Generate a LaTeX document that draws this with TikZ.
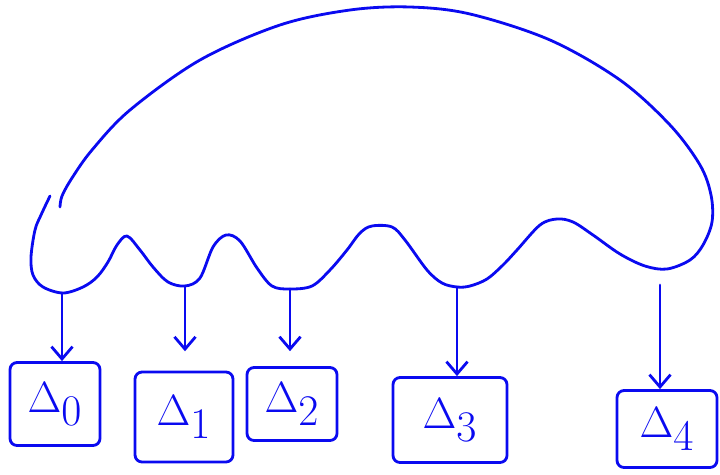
\documentclass[tikz,border=0pt]{standalone}
\usepackage{amsmath}
\usepackage{xcolor}
\usetikzlibrary{arrows.meta, positioning}
\definecolor{pen}{RGB}{10,10,240}

\begin{document}
\begin{tikzpicture}[
  x=0.02cm, y=-0.02cm,
  ink/.style={draw=pen, line width=1.6pt, line cap=round, line join=round},
  delta/.style={ink, rounded corners=4pt, inner sep=0pt, text=pen, font=\fontsize{36}{42}\selectfont},
  >={Straight Barb[length=7pt, width=12pt]}
]
\useasboundingbox (0,0) rectangle (720,474);

% outer blob with wavy bottom
\draw[ink] plot[smooth, tension=0.55] coordinates {
  (60,207) (62,196) (72,178) (92,150) (130,110) (200,60) (280,25) (350,10)
  (410,7) (470,14) (550,40) (620,80) (670,125) (700,165) (711,195) (712,222)
  (703,245) (690,260) (667,269) (645,266) (620,254) (593,235) (573,222)
  (557,219) (540,225) (517,250) (503,265) (487,279) (470,286) (457,287)
  (442,283) (427,270) (405,240) (392,227) (372,226) (360,233) (347,250)
  (330,270) (312,286) (290,289) (272,286) (257,268) (240,241) (226,235)
  (213,247) (200,278) (185,286) (168,282) (153,267) (140,250) (127,236)
  (117,245) (108,262) (97,277) (83,287) (63,293) (43,287) (33,275) (31,257)
  (35,230) (41,215) (50,196)};

% leaves
\node[delta, minimum width=1.8cm, minimum height=1.66cm] (d0) at (55,404) {$\Delta_0$};
\node[delta, minimum width=1.96cm, minimum height=1.8cm] (d1) at (184,417) {$\Delta_1$};
\node[delta, minimum width=1.8cm, minimum height=1.46cm] (d2) at (292,404) {$\Delta_2$};
\node[delta, minimum width=2.28cm, minimum height=1.7cm] (d3) at (450,420) {$\Delta_3$};
\node[delta, minimum width=2cm, minimum height=1.54cm] (d4) at (667,429) {$\Delta_4$};

% attach points on the blob
\coordinate (t0) at (62,293);
\coordinate (t1) at (185,286);
\coordinate (t2) at (290,289);
\coordinate (t3) at (457,287);
\coordinate (t4) at (660,285);

\draw[ink, ->] (t0) -- (t0 |- d0.north);
\draw[ink, ->, shorten >=11pt] (t1) -- (t1 |- d1.north);
\draw[ink, ->, shorten >=8.5pt] (t2) -- (t2 |- d2.north);
\draw[ink, ->] (t3) -- (t3 |- d3.north);
\draw[ink, ->] (t4) -- (t4 |- d4.north);
\end{tikzpicture}
\end{document}
